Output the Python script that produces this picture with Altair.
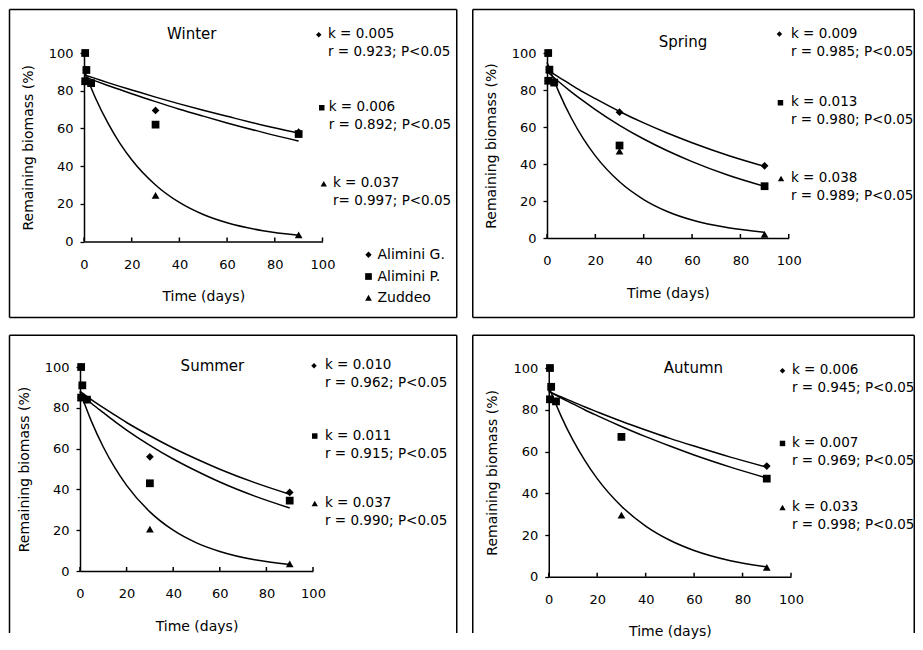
import altair as alt
import pandas as pd

FONT = "DejaVu Sans"

SERIES = ["Alimini G.", "Alimini P.", "Zuddeo"]
SHAPES = ["diamond", "square", "triangle-up"]
DRAW_ORDER = ["Zuddeo", "Alimini G.", "Alimini P."]

X_TICKS = [0, 20, 40, 60, 80, 100]
Y_TICKS = [0, 20, 40, 60, 80, 100]

# sampling days of the measured points
days = [0.5, 1, 0.5, 3, 30, 90]
curve_days = [0, 5, 10, 15, 20, 30, 40, 50, 60, 75, 90]

# ---- measured remaining biomass (%) ----
winter_G = [100, 91, 85, 84, 69.5, 58]
winter_P = [100, 91, 85, 84, 62, 57]
winter_Z = [100, 91, 85, 84, 24.5, 3.5]

spring_G = [100, 91, 85, 84, 68, 39]
spring_P = [100, 91, 85, 84, 50, 28]
spring_Z = [100, 91, 85, 84, 47, 2]

summer_G = [100, 91, 85, 84, 56, 38.5]
summer_P = [100, 91, 85, 84, 43, 34.5]
summer_Z = [100, 91, 85, 84, 20.5, 3.5]

autumn_G = [100, 91, 85, 84, 67, 53]
autumn_P = [100, 91, 85, 84, 67, 47]
autumn_Z = [100, 91, 85, 84, 29.5, 4.5]

# ---- fitted decay curves ----
winter_fit_G = [88.5, 86.4, 84.3, 82.3, 80.4, 76.6, 73.0, 69.6, 66.4, 61.7, 57.5]
winter_fit_P = [87.5, 85.1, 82.8, 80.6, 78.4, 74.2, 70.2, 66.5, 62.9, 57.9, 53.3]
winter_fit_Z = [91, 75.6, 62.9, 52.2, 43.4, 30.0, 20.7, 14.3, 9.9, 5.7, 3.3]

spring_fit_G = [91, 86.8, 82.8, 78.9, 75.3, 68.4, 62.2, 56.6, 51.5, 44.6, 38.7]
spring_fit_P = [90, 84.3, 79.0, 74.1, 69.4, 60.9, 53.5, 47.0, 41.3, 33.9, 27.9]
spring_fit_Z = [95, 78.6, 65.0, 53.7, 44.4, 30.4, 20.8, 14.2, 9.7, 5.5, 3.1]

summer_fit_G = [88, 83.9, 80.1, 76.4, 72.8, 66.3, 60.3, 54.9, 49.9, 43.3, 37.6]
summer_fit_P = [87, 82.1, 77.6, 73.2, 69.1, 61.6, 54.9, 49.0, 43.6, 36.7, 30.9]
summer_fit_Z = [88, 73.1, 60.8, 50.5, 42.0, 29.0, 20.0, 13.8, 9.6, 5.5, 3.2]

autumn_fit_G = [88.8, 86.2, 83.8, 81.3, 79.0, 74.5, 70.3, 66.3, 62.6, 57.3, 52.5]
autumn_fit_P = [88.8, 85.7, 82.8, 79.9, 77.2, 72.0, 67.1, 62.6, 58.3, 52.5, 47.3]
autumn_fit_Z = [91, 77.2, 65.4, 55.5, 47.0, 33.8, 24.3, 17.5, 12.6, 7.7, 4.7]

# ---- annotation texts ----
winter_ann = [["k = 0.005", "r = 0.923; P<0.05"],
              ["k = 0.006", "r = 0.892; P<0.05"],
              ["k = 0.037", "r= 0.997; P<0.05"]]
spring_ann = [["k = 0.009", "r = 0.985; P<0.05"],
              ["k = 0.013", "r = 0.980; P<0.05"],
              ["k = 0.038", "r = 0.989; P<0.05"]]
summer_ann = [["k = 0.010", "r = 0.962; P<0.05"],
              ["k = 0.011", "r = 0.915; P<0.05"],
              ["k = 0.037", "r = 0.990; P<0.05"]]
autumn_ann = [["k = 0.006", "r = 0.945; P<0.05"],
              ["k = 0.007", "r = 0.969; P<0.05"],
              ["k = 0.033", "r = 0.998; P<0.05"]]

# ---- layout (pixels, relative to each panel's group origin) ----
W, H = 244, 210
# frame: (left, top, right, bottom, draw_bottom_edge)
LAYOUT = {
    "Winter": dict(xr=[4, 242.5], yr=[188.5, 0], frame=(-70.5, -43.5, 376.75, 264.5, True),
                   title=(111.75, -19.25),
                   sym_x=[238.75, 241.75, 243.75], txt_x=[248, 248.75, 253],
                   k_y=[-19.25, 53.75, 129.75], legend=True),
    "Spring": dict(xr=[0, 241.75], yr=[185, 0], frame=(-74.25, -43.5, 367.25, 264.5, True),
                   title=(136, -11.25),
                   sym_x=[232.45, 233.45, 234.05], txt_x=[244, 244, 244],
                   k_y=[-19.95, 48.75, 124.45], legend=False),
    "Summer": dict(xr=[0, 233], yr=[204, 0], frame=(-70.5, -31.75, 376.75, 266, False),
                   title=(132.45, -0.55),
                   sym_x=[234, 234.75, 234.75], txt_x=[245, 245, 245],
                   k_y=[-2.25, 68.05, 135.45], legend=False),
    "Autumn": dict(xr=[1.75, 244], yr=[209.75, 1], frame=(-74.25, -31.75, 367.25, 266, False),
                   title=(146.45, 1.05),
                   sym_x=[235.5, 235.5, 235.5], txt_x=[245, 245, 245],
                   k_y=[2.75, 75.45, 139.45], legend=False),
}
ANN_SYM_SIZE = [30, 30, 40]
ANN_FONT_SIZE = 13.5
LEGEND_SYM = (288.5, [201.75, 223.5, 244.75])
LEGEND_TXT_X = 297.5


def panel(name, pts, fits, ann):
    lay = LAYOUT[name]
    prow = []
    crow = []
    for s in DRAW_ORDER:
        i = SERIES.index(s)
        for d, v in zip(days, pts[i]):
            prow.append({"series": s, "day": d, "value": v})
        for d, v in zip(curve_days, fits[i]):
            crow.append({"series": s, "day": d, "value": v})
    pdf = pd.DataFrame(prow)
    cdf = pd.DataFrame(crow)

    xs = alt.Scale(domain=[0, 100], nice=False, zero=False, range=lay["xr"])
    ys = alt.Scale(domain=[0, 100], nice=False, range=lay["yr"])
    xaxis = alt.Axis(values=X_TICKS, ticks=False, labelPadding=16.5, labelFlush=False,
                     title="Time (days)", titlePadding=18.5, grid=False,
                     offset=-(H - lay["yr"][0]))
    yaxis = alt.Axis(values=Y_TICKS, tickSize=4, labelPadding=7, labelFlush=False,
                     title="Remaining biomass (%)", titlePadding=13, grid=False,
                     offset=-lay["xr"][0])

    one = pd.DataFrame({"i": [0]})
    l, t, r, b, closed = lay["frame"]
    edge = dict(color="black", strokeWidth=1.5)
    frame_layers = [
        alt.Chart(one).mark_rule(**edge).encode(x=alt.value(l), x2=alt.value(r), y=alt.value(t)),
        alt.Chart(one).mark_rule(**edge).encode(x=alt.value(l), y=alt.value(t), y2=alt.value(b)),
        alt.Chart(one).mark_rule(**edge).encode(x=alt.value(r), y=alt.value(t), y2=alt.value(b)),
    ]
    if closed:
        frame_layers.append(
            alt.Chart(one).mark_rule(**edge).encode(x=alt.value(l), x2=alt.value(r), y=alt.value(b)))

    lines = alt.Chart(cdf).mark_line(color="black", strokeWidth=1.5, interpolate="monotone").encode(
        x=alt.X("day:Q", scale=xs, axis=xaxis),
        y=alt.Y("value:Q", scale=ys, axis=yaxis),
        detail="series:N")

    yb = lay["yr"][0]
    xt = alt.Chart(pd.DataFrame({"day": X_TICKS})).mark_rule(color="black", strokeWidth=1.5).encode(
        x=alt.X("day:Q", scale=xs, axis=xaxis), y=alt.value(yb), y2=alt.value(yb - 4))

    points = alt.Chart(pdf).mark_point(filled=True, opacity=1, color="black").encode(
        x=alt.X("day:Q", scale=xs, axis=xaxis),
        y=alt.Y("value:Q", scale=ys, axis=yaxis),
        shape=alt.Shape("series:N", scale=alt.Scale(domain=SERIES, range=SHAPES), legend=None),
        size=alt.Size("series:N", scale=alt.Scale(domain=SERIES, range=[60, 60, 70]), legend=None))

    layers = frame_layers + [lines, xt, points]
    for i in range(3):
        ky = lay["k_y"][i]
        layers.append(alt.Chart(one).mark_point(filled=True, opacity=1, color="black",
                                                shape=SHAPES[i], size=ANN_SYM_SIZE[i]).encode(
            x=alt.value(lay["sym_x"][i]), y=alt.value(ky + 1)))
        layers.append(alt.Chart(one).mark_text(align="left", baseline="top", font=FONT,
                                               fontSize=ANN_FONT_SIZE, lineHeight=18,
                                               color="black").encode(
            x=alt.value(lay["txt_x"][i]), y=alt.value(ky - 6.5), text=alt.value(ann[i])))
    if lay["legend"]:
        lx, lys = LEGEND_SYM
        for i in range(3):
            layers.append(alt.Chart(one).mark_point(filled=True, opacity=1, color="black",
                                                    shape=SHAPES[i], size=[40, 45, 45][i]).encode(
                x=alt.value(lx), y=alt.value(lys[i])))
            layers.append(alt.Chart(one).mark_text(align="left", baseline="middle", font=FONT,
                                                   fontSize=14, color="black").encode(
                x=alt.value(LEGEND_TXT_X), y=alt.value(lys[i]), text=alt.value(SERIES[i])))
    tx, ty = lay["title"]
    layers.append(alt.Chart(one).mark_text(align="center", baseline="middle", font=FONT,
                                           fontSize=15, color="black").encode(
        x=alt.value(tx), y=alt.value(ty), text=alt.value(name)))

    return alt.layer(*layers).properties(width=W, height=H)


winter = panel("Winter", [winter_G, winter_P, winter_Z],
               [winter_fit_G, winter_fit_P, winter_fit_Z], winter_ann)
spring = panel("Spring", [spring_G, spring_P, spring_Z],
               [spring_fit_G, spring_fit_P, spring_fit_Z], spring_ann)
summer = panel("Summer", [summer_G, summer_P, summer_Z],
               [summer_fit_G, summer_fit_P, summer_fit_Z], summer_ann)
autumn = panel("Autumn", [autumn_G, autumn_P, autumn_Z],
               [autumn_fit_G, autumn_fit_P, autumn_fit_Z], autumn_ann)

chart = (
    alt.concat(winter, spring, summer, autumn, columns=2,
               spacing={"row": 104, "column": 223}, bounds="flush")
    .properties(padding=0, background="white")
    .configure_view(stroke=None)
    .configure_axis(labelFont=FONT, labelFontSize=13, labelColor="black",
                    titleFont=FONT, titleFontSize=14, titleFontWeight="normal", titleColor="black",
                    domainColor="black", domainWidth=1.5, tickColor="black", tickWidth=1.3,
                    grid=False)
)

chart.save("out.html", embed_options={"renderer": "svg", "actions": False})
